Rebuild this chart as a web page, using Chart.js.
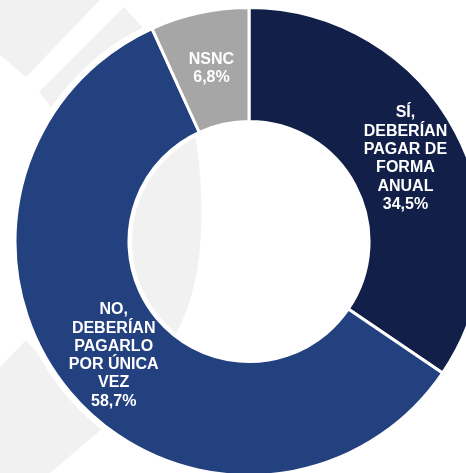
<!DOCTYPE html>
<html>
<head>
<meta charset="utf-8">
<script src="https://cdn.jsdelivr.net/npm/chart.js@4/dist/chart.umd.min.js"></script>
<style>
  html, body { margin: 0; padding: 0; background: #ffffff; overflow: hidden; }
  #wrap { position: relative; width: 466px; height: 473px; }
  canvas { display: block; }
</style>
</head>
<body>
<div id="wrap"><canvas id="c" width="466" height="473"></canvas></div>
<script>
// ---- data ----
const categories = ['SÍ, DEBERÍAN PAGAR DE FORMA ANUAL', 'NO, DEBERÍAN PAGARLO POR ÚNICA VEZ', 'NSNC'];
const values = [34.5, 58.7, 6.8];
const labelLines = [
  ['SÍ,', 'DEBERÍAN', 'PAGAR DE', 'FORMA', 'ANUAL'],
  ['NO,', 'DEBERÍAN', 'PAGARLO', 'POR ÚNICA', 'VEZ'],
  ['NSNC']
];
const colors = ['#121f49', '#23417f', '#a6a6a6'];

function fmtPct(v) { return v.toFixed(1).replace('.', ',') + '%'; }

// decorative background shapes (behind the ring)
const bgPlugin = {
  id: 'bgDeco',
  beforeDatasetsDraw(chart) {
    const ctx = chart.ctx;
    const arc = chart.getDatasetMeta(0).data[0];
    if (!arc) return;
    const cx = arc.x, cy = arc.y, ro = arc.outerRadius, ri = arc.innerRadius;
    ctx.save();
    ctx.fillStyle = '#f1f1f1';
    const polys = [
      [[0,0],[100,0],[26,77],[0,55]],
      [[124,7],[143,28],[52,108],[39,92]],
      [[0,367],[26,340],[103,428],[50,473],[0,473]]
    ];
    polys.forEach(p => {
      ctx.beginPath();
      p.forEach((pt, i) => i ? ctx.lineTo(pt[0], pt[1]) : ctx.moveTo(pt[0], pt[1]));
      ctx.closePath();
      ctx.fill();
    });
    // white halo around ring
    ctx.fillStyle = '#ffffff';
    ctx.beginPath();
    ctx.arc(cx, cy, ro + 5, 0, Math.PI * 2);
    ctx.fill();
    // gray lens inside the hole
    ctx.beginPath();
    ctx.arc(cx, cy, ri - 3, 0, Math.PI * 2);
    ctx.clip();
    ctx.fillStyle = '#f1f1f1';
    ctx.beginPath();
    ctx.moveTo(189, 105);
    ctx.bezierCurveTo(207, 180, 210, 290, 168, 345);
    ctx.lineTo(100, 345);
    ctx.lineTo(100, 105);
    ctx.closePath();
    ctx.fill();
    ctx.restore();
  }
};

const labelPlugin = {
  id: 'sliceLabels',
  afterDatasetsDraw(chart) {
    const ctx = chart.ctx;
    const meta = chart.getDatasetMeta(0);
    ctx.save();
    ctx.font = 'bold 16px "Liberation Sans", Arial, sans-serif';
    ctx.fillStyle = '#ffffff';
    ctx.textAlign = 'center';
    ctx.textBaseline = 'middle';
    const lh = 18.3;
    meta.data.forEach((el, i) => {
      const pos = el.tooltipPosition();
      const lines = labelLines[i].concat([fmtPct(values[i])]);
      const startY = pos.y - (lines.length - 1) * lh / 2;
      lines.forEach((t, k) => ctx.fillText(t, pos.x, startY + k * lh));
    });
    ctx.restore();
  }
};

new Chart(document.getElementById('c'), {
  type: 'doughnut',
  data: {
    labels: categories,
    datasets: [{
      data: values,
      backgroundColor: colors,
      borderColor: '#ffffff',
      borderWidth: 3,
      clip: false
    }]
  },
  options: {
    responsive: false,
    animation: false,
    radius: 234,
    cutout: '51.3%',
    rotation: 0,
    layout: { padding: { left: 32, top: 10, right: 0, bottom: 0 } },
    plugins: {
      legend: { display: false },
      tooltip: { enabled: false }
    }
  },
  plugins: [bgPlugin, labelPlugin]
});
</script>
</body>
</html>
